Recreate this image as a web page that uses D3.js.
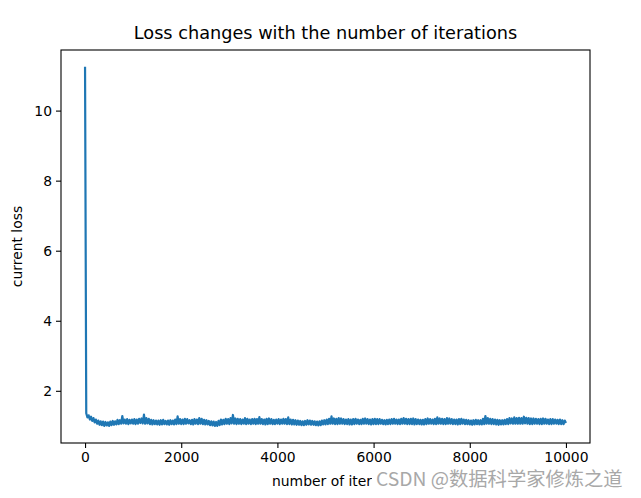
<!DOCTYPE html>
<html>
<head>
<meta charset="utf-8">
<script src="https://cdn.jsdelivr.net/npm/d3@7"></script>
<style>
  html, body { margin: 0; padding: 0; background: #fff; }
  svg { display: block; }
  text { font-family: "DejaVu Sans", sans-serif; }
</style>
</head>
<body>
<svg id="chart" width="641" height="498"></svg>
<script>
// ---- data ----
const title = "Loss changes with the number of iterations";
const xLabel = "number of iterations";
const yLabel = "current loss";
const watermark = "CSDN @数据科学家修炼之道";
const xTicks = [0, 2000, 4000, 6000, 8000, 10000];
const yTicks = [2, 4, 6, 8, 10];
const iterStep = 25; // one sampled value every 25 iterations
const losses = [
  11.25,
  1.36,1.24,1.30,1.18,1.26,1.14,1.22,1.10,1.18,1.06,1.15,1.03,1.13,1.02,1.12,1.00,1.11,1.01,1.10,1.00,
  1.12,1.02,1.14,1.03,1.13,1.04,1.17,1.05,1.16,1.06,1.28,1.07,1.18,1.06,1.19,1.05,1.17,1.07,1.18,1.06,
  1.19,1.05,1.18,1.06,1.20,1.08,1.21,1.07,1.32,1.06,1.22,1.07,1.20,1.05,1.17,1.04,1.16,1.05,1.15,1.04,
  1.15,1.03,1.16,1.04,1.17,1.05,1.14,1.04,1.15,1.03,1.16,1.05,1.15,1.04,1.18,1.05,1.27,1.06,1.19,1.05,
  1.18,1.05,1.20,1.06,1.19,1.07,1.16,1.05,1.17,1.04,1.19,1.06,1.18,1.05,1.22,1.06,1.20,1.05,1.17,1.04,
  1.16,1.04,1.14,1.02,1.13,1.01,1.12,1.00,1.11,1.00,1.14,1.02,1.18,1.04,1.17,1.05,1.20,1.06,1.19,1.05,
  1.22,1.07,1.31,1.06,1.21,1.05,1.20,1.06,1.19,1.05,1.18,1.06,1.22,1.05,1.20,1.06,1.18,1.05,1.19,1.06,
  1.20,1.05,1.19,1.06,1.25,1.06,1.19,1.05,1.18,1.04,1.20,1.05,1.21,1.06,1.19,1.05,1.17,1.05,1.18,1.06,
  1.19,1.05,1.18,1.06,1.20,1.06,1.19,1.05,1.24,1.05,1.18,1.04,1.17,1.04,1.16,1.03,1.15,1.03,1.14,1.02,
  1.13,1.02,1.14,1.03,1.16,1.04,1.15,1.03,1.14,1.03,1.13,1.02,1.12,1.01,1.13,1.02,1.15,1.04,1.16,1.04,
  1.18,1.05,1.20,1.06,1.27,1.06,1.21,1.05,1.20,1.05,1.22,1.06,1.21,1.06,1.19,1.05,1.18,1.05,1.19,1.04,
  1.18,1.04,1.19,1.05,1.20,1.06,1.18,1.05,1.17,1.05,1.20,1.06,1.21,1.06,1.19,1.05,1.18,1.04,1.19,1.05,
  1.20,1.05,1.19,1.05,1.19,1.06,1.17,1.05,1.16,1.04,1.17,1.05,1.18,1.05,1.19,1.06,1.20,1.06,1.18,1.05,
  1.18,1.05,1.20,1.06,1.22,1.06,1.20,1.05,1.19,1.05,1.20,1.05,1.21,1.04,1.19,1.05,1.18,1.05,1.17,1.04,
  1.17,1.04,1.19,1.05,1.21,1.06,1.19,1.06,1.18,1.05,1.20,1.05,1.24,1.06,1.21,1.06,1.20,1.05,1.19,1.05,
  1.22,1.06,1.21,1.06,1.19,1.05,1.18,1.05,1.18,1.04,1.19,1.05,1.20,1.06,1.18,1.05,1.17,1.05,1.16,1.04,
  1.15,1.03,1.16,1.04,1.17,1.05,1.16,1.04,1.16,1.04,1.20,1.05,1.28,1.06,1.22,1.06,1.20,1.05,1.19,1.05,
  1.18,1.04,1.17,1.03,1.16,1.04,1.16,1.04,1.17,1.05,1.19,1.05,1.22,1.07,1.21,1.06,1.24,1.06,1.22,1.06,
  1.23,1.06,1.22,1.06,1.26,1.07,1.23,1.06,1.22,1.05,1.21,1.05,1.21,1.06,1.20,1.06,1.19,1.05,1.20,1.05,
  1.21,1.06,1.20,1.06,1.18,1.05,1.19,1.05,1.19,1.06,1.18,1.06,1.17,1.05,1.18,1.05,1.16,1.05,1.15,1.08
];

// ---- layout ----
const svg = d3.select("#chart");
const plot = { left: 61, right: 590, top: 50, bottom: 443 };

const x = d3.scaleLinear().domain([-500, 10500]).range([plot.left, plot.right]);
const y = d3.scaleLinear().domain([0.51, 11.73]).range([plot.bottom, plot.top]);

// line
const line = d3.line()
  .x((d, i) => x(i * iterStep))
  .y(d => y(d));

svg.append("path")
  .datum(losses)
  .attr("d", line)
  .attr("fill", "none")
  .attr("stroke", "#1f77b4")
  .attr("stroke-width", 2.2)
  .attr("stroke-linejoin", "round");

// axes
const xAxis = d3.axisBottom(x).tickValues(xTicks).tickSize(5).tickPadding(4).tickFormat(d3.format("d"));
const yAxis = d3.axisLeft(y).tickValues(yTicks).tickSize(5).tickPadding(4).tickFormat(d3.format("d"));

const gx = svg.append("g").attr("transform", `translate(0,${plot.bottom})`).call(xAxis);
const gy = svg.append("g").attr("transform", `translate(${plot.left},0)`).call(yAxis);
[gx, gy].forEach(g => {
  g.select(".domain").remove();
  g.selectAll(".tick line").attr("stroke", "#000").attr("stroke-width", 1.1);
  g.selectAll(".tick text").attr("fill", "#000").style("font-size", "13.9px")
    .style("font-family", "'DejaVu Sans', sans-serif");
});

// frame
svg.append("rect")
  .attr("x", plot.left).attr("y", plot.top)
  .attr("width", plot.right - plot.left).attr("height", plot.bottom - plot.top)
  .attr("fill", "none").attr("stroke", "#000").attr("stroke-width", 1.1);

// title
svg.append("text")
  .attr("x", (plot.left + plot.right) / 2).attr("y", 39)
  .attr("text-anchor", "middle")
  .style("font-size", "17.7px")
  .text(title);

// axis labels (the end of the x label is hidden behind the watermark, as in the reference)
svg.append("defs").append("clipPath").attr("id", "xlabClip")
  .append("rect").attr("x", 0).attr("y", 460).attr("width", 372).attr("height", 38);
svg.append("text")
  .attr("x", 272).attr("y", 486)
  .attr("clip-path", "url(#xlabClip)")
  .style("font-size", "13.9px")
  .text(xLabel);

svg.append("text")
  .attr("transform", `translate(22,${(plot.top + plot.bottom) / 2}) rotate(-90)`)
  .attr("text-anchor", "middle")
  .style("font-size", "13.9px")
  .text(yLabel);

// watermark with its white backing
svg.append("rect")
  .attr("x", 372).attr("y", 468).attr("width", 269).attr("height", 30)
  .attr("fill", "#fff");
svg.append("text")
  .attr("x", 376).attr("y", 486)
  .style("font-family", "'Noto Sans CJK SC', sans-serif")
  .style("font-size", "19.3px")
  .attr("fill", "#a8a8a8")
  .text(watermark);
</script>
</body>
</html>
